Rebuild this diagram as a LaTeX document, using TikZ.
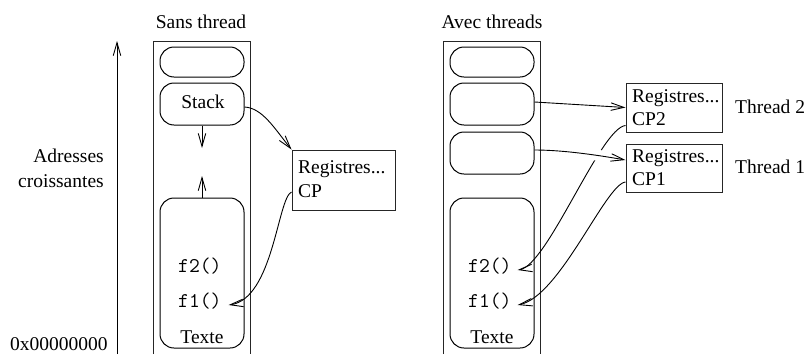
\documentclass[tikz,border=0pt]{standalone}
\usepackage{fontspec}
\setmainfont{Liberation Serif}
\usetikzlibrary{arrows.meta}
\begin{document}
\begin{tikzpicture}[x=1pt,y=1pt,
  every node/.style={font=\fontsize{19.5}{23}\selectfont\rmfamily, inner sep=0pt},
  lbl/.style={anchor=base},
  lblw/.style={anchor=base west},
  lble/.style={anchor=base east},
  code/.style={anchor=base west, font=\fontsize{21}{24}\selectfont\ttfamily},
  pill/.style={draw=black, line width=1pt, rounded corners=14pt, minimum width=84pt},
  regbox/.style={draw=black!85, line width=1pt, rectangle},
  col/.style={draw=black!85, line width=1pt},
  conn/.style={line width=0.9pt, -{Straight Barb[length=13pt,width=7.5pt]}},
]
\useasboundingbox (0,0) rectangle (807,-354);

% titles
\node[lbl] (t1) at (201,-28) {Sans thread};
\node[lbl] (t2) at (492,-28) {Avec threads};

% address axis
\coordinate (axb) at (117,-354);
\coordinate (axt) at (117,-41);
\draw[conn] (axb) -- (axt);
\node[lble] (adr) at (104,-162) {Adresses};
\node[lble] (cro) at (104,-187) {croissantes};
\node[lblw] (zero) at (10,-350) {0x00000000};

% columns
\draw[col] (153,-354) -- (153,-41) -- (250,-41) -- (250,-354);
\draw[col] (443,-354) -- (443,-41) -- (540,-41) -- (540,-354);

% left column
\node[pill, minimum height=30pt] (a1) at (202,-62) {};
\node[pill, minimum height=42pt] (stk) at (202,-104) {};
\node[lbl] (stkt) at (203,-108) {Stack};
\node[pill, minimum height=150pt] (txt) at (202,-273) {};
\node[code] (f2a) at (178,-272) {f2()};
\node[code] (f1a) at (178,-307) {f1()};
\node[lbl] (tea) at (202,-343) {Texte};
\coordinate (dn) at (202,-148);
\coordinate (up) at (202,-176);
\draw[conn] (stk.south) -- (dn);
\draw[conn] (txt.north) -- (up);

\node[regbox, minimum width=103pt, minimum height=60pt] (reg) at (343.5,-180) {};
\node[lblw] (rg) at (298,-173) {Registres...};
\node[lblw] (cp) at (298,-197) {CP};

% right column
\node[pill, minimum height=30pt] (b1) at (492,-62) {};
\node[pill, minimum height=42pt] (b2) at (492,-104) {};
\node[pill, minimum height=42pt] (b3) at (492,-153) {};
\node[pill, minimum height=150pt] (txtb) at (492,-273) {};
\node[code] (f2b) at (468,-272) {f2()};
\node[code] (f1b) at (468,-307) {f1()};
\node[lbl] (teb) at (492,-343) {Texte};

\node[regbox, minimum width=96pt, minimum height=49pt] (r2) at (674,-107.5) {};
\node[lblw] (r2a) at (632,-102) {Registres...};
\node[lblw] (r2b) at (632,-125) {CP2};
\node[regbox, minimum width=96pt, minimum height=48pt] (r1) at (674,-168) {};
\node[lblw] (r1a) at (632,-162) {Registres...};
\node[lblw] (r1b) at (632,-185) {CP1};
\node[lblw] (th2) at (735,-113) {Thread 2};
\node[lblw] (th1) at (735,-173) {Thread 1};

% connectors, left
\draw[conn] ([yshift=-3pt]stk.east) to[out=-3,in=129,out distance=18pt,in distance=27pt] (reg.north west);
\draw[conn] ([yshift=-12pt]reg.west) to[out=203,in=8,out distance=15pt,in distance=45pt] ([xshift=7pt,yshift=2pt]f1a.base east);

% connectors, right
\draw[conn] ([yshift=2pt]b2.east) -- (r2.west);
\draw[conn] ([yshift=-18pt]r2.west) to[out=185,in=8,out distance=25pt,in distance=30pt] ([xshift=6pt,yshift=2pt]f2b.base east);
\draw[white, line width=11pt, shorten <=15pt, shorten >=15pt] ([yshift=3pt]b3.east) to[out=0,in=170,out distance=30pt,in distance=25pt] ([yshift=8pt]r1.west);
\draw[conn] ([yshift=3pt]b3.east) to[out=0,in=170,out distance=30pt,in distance=25pt] ([yshift=8pt]r1.west);
\draw[conn] ([yshift=-14pt]r1.west) to[out=186,in=11,out distance=20pt,in distance=43pt] ([xshift=6pt,yshift=2pt]f1b.base east);
\end{tikzpicture}
\end{document}
